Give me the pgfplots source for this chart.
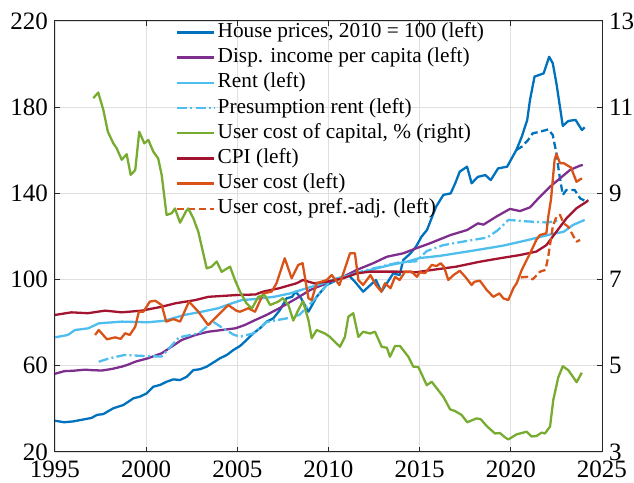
\documentclass[border=0pt]{standalone}
\usepackage{fontspec}
\setmainfont{Liberation Serif}
\usepackage{pgfplots}
\pgfplotsset{compat=1.18}
\definecolor{cHP}{HTML}{0072BD}
\definecolor{cInc}{HTML}{7E2F8E}
\definecolor{cRent}{HTML}{4DBEEE}
\definecolor{cG}{HTML}{77AC30}
\definecolor{cCPI}{HTML}{A2142F}
\definecolor{cUC}{HTML}{D95319}
\definecolor{cAx}{HTML}{262626}
\definecolor{cGrid}{HTML}{DFDFDF}
\pgfplotsset{
  common/.style={
    width=273.5pt, height=215.5pt, scale only axis,
    at={(0,0)}, anchor=south west,
    xmin=1995, xmax=2025,
    axis line style={draw=cAx, line width=0.5pt},
    tick style={draw=cAx, line width=0.5pt},
    major tick length=2.6pt,
    tick align=inside,
    /pgf/number format/assume math mode=true,
    ticklabel style={font=\fontsize{12.5}{14}\selectfont, text=black},
    xticklabel style={/pgf/number format/1000 sep={}, inner ysep=0.3pt, yshift=-4.0pt},
    yticklabel style={inner ysep=0.5pt},
  },
  ln/.style={line width=1.15pt, line join=round, no markers},
  dsh/.style={dash pattern=on 3.6pt off 1.8pt},
  dsd/.style={dash pattern=on 5pt off 1.6pt on 1pt off 1.6pt},
}
\begin{document}
\begin{tikzpicture}
\path[use as bounding box] (-27.5pt,-15.5pt) rectangle (289.5pt,226pt);
\begin{axis}[common,
  ymin=20, ymax=220,
  xtick={1995,2000,...,2025}, ytick={20,60,...,220},
  xtick pos=both, ytick pos=left,
  grid=major, major grid style={draw=cGrid, line width=0.45pt},
  legend style={at={(0.2212,1)}, anchor=north west, draw=none, fill=none,
    inner sep=0pt, outer sep=0pt, row sep=2.6pt, yshift=-0.7pt,
    font=\fontsize{10.65}{12}\selectfont,
    nodes={inner xsep=1.2pt, inner ysep=0.5pt, text height=7pt, text depth=2pt}},
  legend cell align=left,
  legend image code/.code={\draw[#1] (0pt,0pt) -- (18.5pt,0pt);},
]
% House prices
\addplot[ln, cHP] table {
1995.0 34.5
1995.5 33.8
1996.0 34.2
1996.5 35.0
1997.0 35.8
1997.3 37.2
1997.65 37.6
1998.2 40.3
1998.75 41.8
1999.3 44.9
1999.66 45.7
2000.03 47.2
2000.39 50.3
2000.76 51.1
2001.12 52.6
2001.49 53.7
2001.86 53.4
2002.22 54.9
2002.59 58.0
2002.95 58.4
2003.32 59.6
2003.68 61.5
2004.05 63.5
2004.42 65.0
2004.78 67.3
2005.15 69.2
2005.51 72.0
2005.88 75.1
2006.24 77.4
2006.61 80.5
2006.97 82.0
2007.34 85.9
2007.7 91.3
2008.0 92.0
2008.2 94.4
2008.5 91.3
2008.9 85.1
2009.35 92.0
2009.9 97.5
2010.45 99.8
2011.1 102.1
2011.45 99.0
2011.9 94.4
2012.3 97.5
2012.6 99.8
2012.9 94.4
2013.2 98.3
2013.55 102.9
2013.9 102.1
2014.1 109.1
2014.5 112.2
2014.8 115.3
2015.1 119.9
2015.4 123.0
2015.9 133.8
2016.3 139.3
2016.7 140.0
2016.95 144.7
2017.2 150.1
2017.6 152.4
2017.85 144.7
2018.2 147.7
2018.6 148.5
2018.9 146.2
2019.3 151.6
2019.8 152.4
2020.05 156.3
2020.3 160.1
2020.6 166.3
2020.9 174.1
2021.05 183.3
2021.3 194.2
2021.8 195.7
2022.1 203.4
2022.3 200.4
2022.5 191.1
2022.85 171.3
2023.15 173.6
2023.55 174.1
2023.9 169.4
2024.05 170.7
};
\addlegendentry{House prices, 2010 = 100 (left)}
% House prices, pref.-adj. (no legend entry)
\addplot[ln, cHP, dsh, forget plot] table {
2020.3 160.1
2020.6 161.7
2020.95 164.8
2021.2 167.9
2021.6 168.6
2022.05 169.7
2022.3 167.1
2022.5 158.6
2022.65 149.3
2022.85 139.3
2023.05 141.6
2023.5 141.6
2023.8 137.7
2024.05 136.6
};
% Disposable income
\addplot[ln, cInc] table {
1995.0 56.3
1995.5 57.5
1996.0 57.7
1996.65 58.2
1997.0 58.0
1997.56 57.8
1998.1 58.5
1998.66 59.6
1999.0 60.5
1999.4 61.9
2000.1 63.5
2000.85 65.8
2001.4 68.9
2001.95 72.0
2002.7 74.3
2003.4 75.8
2004.15 76.6
2004.9 77.4
2005.4 78.9
2006.0 81.3
2006.6 83.6
2007.3 86.7
2008.25 91.3
2009.0 95.2
2009.9 98.3
2010.8 101.3
2011.55 104.5
2012.45 107.6
2013.2 110.6
2014.1 112.2
2014.8 114.5
2015.55 116.8
2016.7 120.7
2017.6 123.0
2018.2 126.1
2018.5 125.5
2019.2 129.2
2019.95 132.8
2020.5 131.8
2021.05 133.5
2021.6 138.5
2022.15 143.1
2022.7 147.0
2023.25 150.9
2023.8 152.9
2023.95 153.2
};
\addlegendentry{Disp. income per capita (left)}
% Rent
\addplot[ln, cRent] table {
1995.0 73.2
1995.7 74.3
1996.1 76.6
1996.83 77.4
1997.4 79.7
1998.66 80.5
2000.1 80.2
2001.0 80.9
2002.1 83.6
2003.05 85.1
2003.95 86.7
2004.7 89.0
2005.25 90.5
2006.0 91.0
2007.0 92.0
2007.9 93.6
2008.8 96.0
2009.7 98.3
2010.45 100.6
2011.2 102.1
2012.3 104.5
2013.4 106.8
2014.3 108.3
2015.0 110.0
2016.1 111.0
2017.6 113.0
2018.7 114.5
2019.6 115.8
2020.9 118.3
2021.6 119.8
2022.3 121.2
2022.9 122.2
2023.4 125.3
2024.05 127.7
};
\addlegendentry{Rent (left)}
% Presumption rent
\addplot[ln, cRent, dsd] table {
1997.4 61.9
1998.0 63.5
1998.8 65.0
2000.0 64.5
2000.85 64.3
2001.3 68.5
2001.8 73.2
2002.9 75.1
2003.66 80.5
2004.2 77.5
2004.78 74.5
2005.15 73.5
2005.9 75.1
2006.6 80.3
2007.7 82.0
2008.4 83.6
2009.2 90.5
2010.0 98.5
2011.0 101.8
2012.0 104.2
2013.0 106.3
2013.9 108.0
2014.8 108.5
2015.4 113.3
2016.3 116.0
2017.5 117.8
2018.7 119.5
2019.3 123.0
2019.86 127.7
2020.9 127.0
2022.0 126.5
2022.7 127.5
};
\addlegendentry{Presumption rent (left)}
\addlegendimage{ln, cG}
\addlegendentry{User cost of capital, \% (right)}
% CPI
\addplot[ln, cCPI] table {
1995.0 83.6
1995.9 84.8
1996.8 84.4
1997.75 85.6
1998.66 84.8
1999.75 85.6
2000.85 87.4
2001.6 89.0
2002.7 90.5
2003.4 92.0
2004.9 92.8
2006.0 93.1
2006.4 94.4
2007.3 96.0
2008.25 98.3
2008.6 99.8
2009.2 98.3
2009.9 99.0
2010.8 100.6
2011.55 102.9
2012.3 103.7
2013.75 103.7
2014.8 103.4
2015.7 104.5
2017.0 106.0
2018.3 108.3
2019.4 109.9
2020.5 111.4
2021.4 113.0
2021.95 116.0
2022.5 122.2
2023.05 128.4
2023.6 133.1
2024.15 136.1
2024.25 136.9
};
\addlegendentry{CPI (left)}
% User cost
\addplot[ln, cUC] table {
1997.2 74.3
1997.4 76.6
1997.85 72.3
1998.3 73.2
1998.6 72.5
1998.85 75.1
1999.1 74.3
1999.4 78.1
1999.6 85.1
1999.85 85.1
2000.2 89.8
2000.5 90.2
2000.85 88.2
2001.1 80.5
2001.5 81.7
2001.86 80.5
2002.35 89.8
2002.86 85.1
2003.4 78.9
2003.95 83.6
2004.5 88.2
2004.96 85.5
2005.15 85.1
2005.6 86.7
2005.97 85.1
2006.43 93.6
2006.88 94.4
2007.15 98.3
2007.6 109.9
2007.98 100.6
2008.34 106.8
2008.58 107.6
2008.9 91.3
2009.08 90.5
2009.35 98.3
2009.9 99.8
2010.18 102.1
2010.6 97.5
2011.18 112.2
2011.45 112.2
2011.64 99.8
2011.9 97.5
2012.3 102.1
2012.6 97.5
2012.9 94.4
2013.1 98.3
2013.4 96.0
2013.65 101.3
2013.9 99.8
2014.2 103.7
2014.55 103.7
2014.85 101.3
2015.0 103.4
2015.3 103.0
2015.66 106.8
2015.93 106.3
2016.15 107.6
2016.33 106.0
2016.57 99.8
2016.85 102.1
2017.2 104.1
2017.5 101.3
2017.85 97.5
2018.0 99.0
2018.3 99.5
2018.68 95.2
2019.04 92.0
2019.37 93.6
2019.59 91.3
2019.86 90.5
2020.14 96.0
2020.32 98.3
2020.6 104.5
2020.87 109.1
2021.14 113.7
2021.4 118.4
2021.6 120.7
2021.95 121.5
2022.05 129.0
2022.2 137.0
2022.4 155.5
2022.5 158.3
2022.7 154.0
2022.9 154.0
2023.1 153.0
2023.3 152.0
2023.6 145.4
2023.9 147.0
};
\addlegendentry{User cost (left)}
% User cost, pref.-adj.
\addplot[ln, cUC, dsh] table {
2020.55 101.0
2020.9 101.3
2021.2 100.1
2021.6 103.7
2021.9 104.5
2022.05 110.6
2022.3 124.5
2022.5 129.2
2022.7 130.0
2022.9 126.1
2023.15 124.5
2023.45 119.9
2023.6 117.6
2023.8 118.4
};
\addlegendentry{User cost, pref.-adj. (left)}
\end{axis}
\begin{axis}[common,
  ymin=3, ymax=13, ytick={3,5,...,13},
  hide x axis, ytick pos=right, yticklabel pos=right,
]
\addplot[ln, cG] table {
1997.1 11.21
1997.37 11.34
1997.65 10.94
1997.9 10.43
1998.2 10.16
1998.38 10.05
1998.66 9.78
1998.93 9.91
1999.15 9.43
1999.4 9.54
1999.62 10.43
1999.9 10.16
2000.12 10.24
2000.39 9.97
2000.66 9.81
2000.85 9.43
2001.12 8.50
2001.4 8.54
2001.58 8.65
2001.86 8.32
2002.18 8.58
2002.31 8.65
2002.59 8.42
2002.86 8.11
2003.32 7.26
2003.59 7.30
2003.87 7.42
2004.14 7.18
2004.6 7.30
2004.87 6.99
2005.15 6.72
2005.5 6.45
2005.8 6.33
2006.15 6.60
2006.5 6.64
2006.8 6.41
2007.25 6.49
2007.5 6.57
2007.8 6.41
2008.07 6.05
2008.34 6.29
2008.6 6.50
2008.9 6.06
2009.08 5.64
2009.35 5.83
2009.8 5.75
2010.08 5.67
2010.63 5.44
2010.9 5.67
2011.09 6.14
2011.36 6.22
2011.64 5.67
2011.9 5.79
2012.28 5.75
2012.55 5.79
2012.92 5.44
2013.2 5.42
2013.37 5.21
2013.65 5.46
2013.92 5.46
2014.38 5.21
2014.65 4.98
2014.93 4.97
2015.39 4.55
2015.66 4.63
2016.3 4.28
2016.67 3.99
2016.94 3.95
2017.3 3.86
2017.61 3.69
2018.12 3.78
2018.35 3.76
2018.68 3.60
2019.13 3.43
2019.4 3.44
2019.68 3.34
2019.86 3.29
2020.32 3.41
2020.87 3.47
2021.14 3.36
2021.4 3.37
2021.69 3.45
2021.87 3.43
2022.15 3.59
2022.33 4.21
2022.6 4.73
2022.85 4.99
2023.15 4.90
2023.61 4.62
2023.89 4.84
};
\end{axis}
\end{tikzpicture}
\end{document}
